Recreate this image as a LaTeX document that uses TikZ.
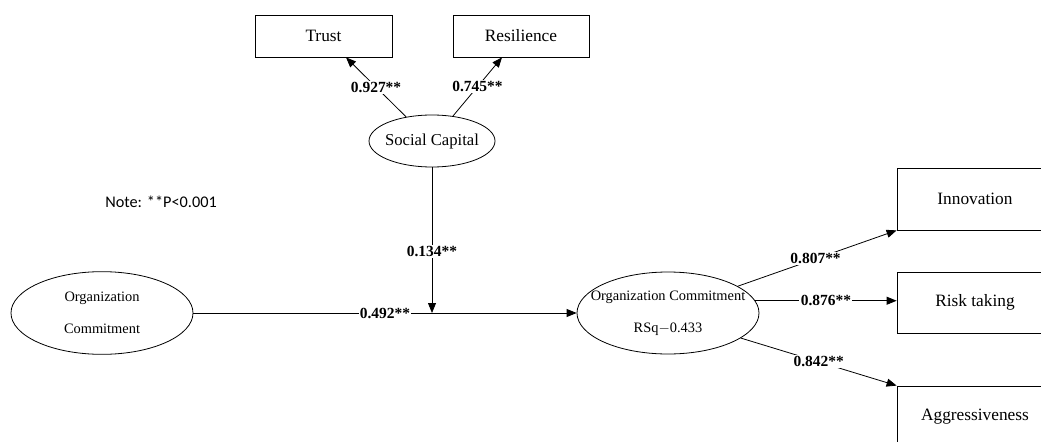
\documentclass[tikz,border=0pt]{standalone}
\usepackage{fontspec}
\setmainfont{Liberation Serif}
\newfontfamily\notefont{Carlito}
\usetikzlibrary{shapes.geometric,arrows.meta,calc}
\begin{document}
\begin{tikzpicture}[x=0.75pt,y=-0.75pt,
  box/.style={draw,line width=0.6pt,rectangle,inner sep=0pt,font=\fontsize{13}{15}\selectfont},
  oval/.style={draw,line width=0.6pt,ellipse,inner sep=0pt,align=center},
  ovaltext/.style={font=\fontsize{10.8}{24}\selectfont},
  conn/.style={line width=0.6pt,-{Triangle[length=7.5pt,width=6pt]}},
  coef/.style={fill=white,inner sep=1pt,font=\fontsize{11.6}{13}\selectfont\bfseries},
]
\useasboundingbox (0,0) rectangle (1041,442);
\clip (0,0) rectangle (1041,442);

\node[box,minimum width=102.75pt,minimum height=31.5pt] (trust) at (323.5,36) {Trust};
\node[box,minimum width=102pt,minimum height=31.5pt] (res) at (521,36) {Resilience};
\node[oval,minimum width=94.5pt,minimum height=39pt,font=\fontsize{12.5}{15}\selectfont] (sc) at (432,141) {\makebox[0pt]{Social Capital}};

\node[font=\notefont\fontsize{12.2}{14}\selectfont] (note) at (161,202) {Note: **P<0.001};

\node[oval,ovaltext,minimum width=136.5pt,minimum height=62pt] (oc1) at (102,313)
  {\makebox[0pt]{Organization}\\\makebox[0pt]{Commitment}};
\node[oval,ovaltext,minimum width=136.5pt,minimum height=61.5pt] (oc2) at (668,313)
  {\makebox[0pt]{Organization Commitment}\\\makebox[0pt]{RSq$-$0.433}};

\node[box,minimum width=117pt,minimum height=46.5pt] (inno) at (975,199) {Innovation};
\node[box,minimum width=117pt,minimum height=45.75pt] (risk) at (975,302.5) {Risk taking};
\node[box,minimum width=117pt,minimum height=45.75pt] (aggr) at (975,416.5) {Aggressiveness};

\draw[conn] (sc.137) -- ($(trust.south)+(22.5,0)$) node[coef,pos=0.5] {0.927**};
\draw[conn] (sc.50) -- ($(res.south)+(-19,0)$) node[coef,pos=0.5] {0.745**};

\coordinate (m) at (sc.south |- oc1.east);
\draw[conn] (oc1.east) -- (oc2.west) node[coef,pos=0.5] {0.492**};
\draw[conn] (sc.south) -- (m) node[coef,pos=0.575] {0.134**};

\draw[conn] (oc2.21) -- (inno.south west) node[coef,pos=0.49] {0.807**};
\draw[conn] (oc2.8) -- (oc2.8 -| risk.west) node[coef,pos=0.5] {0.876**};
\draw[conn] (oc2.-19) -- (aggr.north west) node[coef,pos=0.5] {0.842**};
\end{tikzpicture}
\end{document}
